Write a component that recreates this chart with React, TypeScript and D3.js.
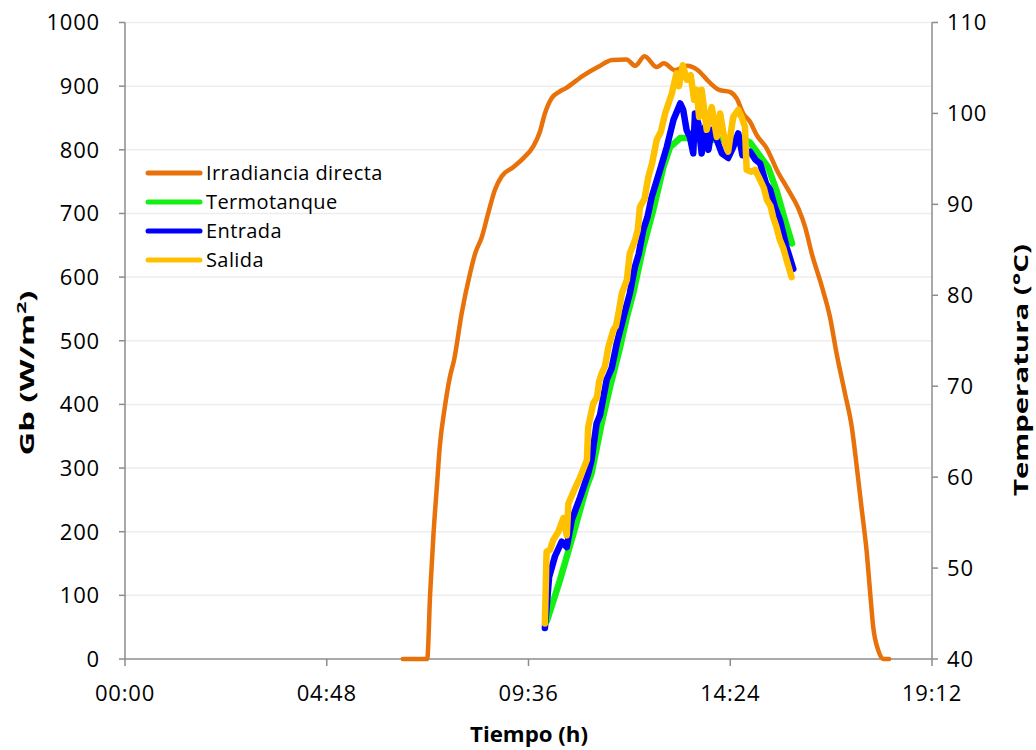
import React from 'react'
import { scaleLinear, line, curveMonotoneX, curveLinear } from 'd3'

// decimal hours
const xTicks = [0, 4.8, 9.6, 14.4, 19.2]
const gbTicks = [0, 100, 200, 300, 400, 500, 600, 700, 800, 900, 1000]
const tempTicks = [40, 50, 60, 70, 80, 90, 100, 110]

const irrTime = [6.61, 7.19, 7.26, 7.34, 7.42, 7.49, 7.61, 7.73, 7.83, 8.01, 8.21, 8.33, 8.49, 8.64, 8.80, 8.96,
  9.24, 9.48, 9.71, 9.87, 9.99, 10.15, 10.33, 10.49, 10.91, 11.25, 11.59, 11.93, 12.14, 12.36, 12.65, 12.82,
  13.08, 13.37, 13.63, 13.89, 14.14, 14.39, 14.55, 14.71, 14.87, 15.03, 15.27, 15.51, 15.78, 16.02, 16.18,
  16.34, 16.58, 16.77, 16.93, 17.13, 17.29, 17.41, 17.53, 17.65, 17.73, 17.80, 17.92, 18.04, 18.18]
const irr = [0, 0, 103, 197, 271, 334, 396, 443, 470, 543, 606, 637, 663, 700, 737, 758,
  773, 787, 805, 828, 857, 881, 891, 897, 917, 930, 941, 942, 932, 947, 930, 936,
  925, 932, 925, 907, 894, 891, 881, 857, 844, 823, 802, 768, 737, 708, 679,
  637, 585, 538, 480, 417, 365, 302, 234, 166, 103, 51, 14, 0, 0]

const termotanque: [number, number][] = [
  [10.04, 44.2], [10.35, 48.7], [10.67, 53.8], [10.98, 58.9], [11.10, 60.4], [11.34, 65.9], [11.54, 69.9],
  [11.78, 74.3], [11.94, 77.6], [12.09, 80.2], [12.33, 85.3], [12.57, 89.4], [12.81, 94.1], [12.97, 96.3],
  [13.21, 97.3], [13.52, 97.3], [13.84, 97.1], [14.32, 97.1], [14.64, 97.3], [14.87, 96.8], [15.11, 95.3],
  [15.30, 94.1], [15.51, 91.4], [15.70, 88.3], [15.87, 85.7],
]

const entrada: [number, number][] = [
  [9.99, 43.4], [10.09, 49.0], [10.23, 51.3], [10.39, 52.9], [10.51, 52.3], [10.63, 55.3], [10.83, 57.8],
  [11.02, 60.4], [11.10, 61.9], [11.22, 65.9], [11.30, 66.8], [11.46, 70.7], [11.58, 72.0], [11.70, 74.7],
  [11.86, 77.6], [12.01, 80.2], [12.13, 83.1], [12.22, 84.5], [12.33, 87.2], [12.43, 88.6], [12.53, 90.8],
  [12.73, 93.8], [12.89, 96.3], [13.05, 99.3], [13.21, 101.1],
  [13.28, 100.4], [13.36, 98.2], [13.44, 97.4], [13.52, 95.6], [13.56, 100.0], [13.64, 98.9], [13.72, 95.6],
  [13.80, 98.5], [13.88, 96.0], [13.96, 98.2], [14.08, 97.1], [14.20, 95.6], [14.35, 95.1], [14.47, 96.3],
  [14.59, 97.8], [14.69, 95.4], [14.87, 95.8], [15.00, 94.9], [15.11, 94.5], [15.25, 92.3], [15.35, 91.6],
  [15.47, 89.6], [15.58, 88.3], [15.74, 85.3], [15.90, 82.9],
]

const salida: [number, number][] = [
  [9.99, 43.9], [10.03, 51.8], [10.11, 52.0], [10.19, 53.1], [10.31, 54.0], [10.43, 55.5], [10.51, 53.6],
  [10.55, 57.1], [10.67, 58.4], [10.83, 60.0], [10.99, 61.9], [11.02, 65.5], [11.14, 68.1], [11.23, 68.8],
  [11.28, 70.5], [11.34, 71.4], [11.42, 72.2], [11.50, 74.3], [11.62, 76.2], [11.68, 76.6], [11.74, 78.0],
  [11.82, 80.2], [11.94, 81.7], [12.01, 84.6], [12.13, 86.0], [12.20, 87.2], [12.25, 89.7], [12.36, 90.6],
  [12.45, 93.0], [12.54, 94.5], [12.65, 97.1], [12.75, 98.0],
  [12.85, 100.0], [13.01, 102.2], [13.12, 104.4], [13.18, 103.0], [13.27, 105.3], [13.37, 103.7],
  [13.46, 104.2], [13.54, 101.5], [13.60, 102.6], [13.66, 99.6], [13.72, 102.6], [13.84, 98.2],
  [13.96, 100.7], [14.08, 97.4], [14.16, 100.0], [14.28, 96.7], [14.35, 95.8], [14.47, 99.6], [14.59, 100.4],
  [14.67, 99.6], [14.75, 98.5], [14.79, 93.8], [14.90, 93.6], [14.99, 93.8], [15.11, 92.7], [15.20, 91.8],
  [15.27, 90.5], [15.36, 89.8], [15.42, 88.6], [15.50, 87.5], [15.58, 86.1], [15.66, 85.2], [15.74, 83.9],
  [15.86, 82.0],
]

const legendItems = [
  { label: 'Irradiancia directa', color: '#E8710A' },
  { label: 'Termotanque', color: '#14F014' },
  { label: 'Entrada', color: '#0000FF' },
  { label: 'Salida', color: '#FFC000' },
]

const font = '"Open Sans", sans-serif'
const axisColor = '#8c8c8c'

const fmtTime = (h: number) => {
  const m = Math.round(h * 60)
  const hh = Math.floor(m / 60)
  const mm = m % 60
  return `${String(hh).padStart(2, '0')}:${String(mm).padStart(2, '0')}`
}

const App = () => {
  const left = 125, right = 932, top = 22.5, bottom = 659

  const x = scaleLinear().domain([0, 19.2]).range([left, right])
  const yGb = scaleLinear().domain([0, 1000]).range([bottom, top])
  const yT = scaleLinear().domain([40, 110]).range([bottom, top])

  const irrLine = line<number>()
    .x((_, i) => x(irrTime[i]))
    .y(d => yGb(d))
    .curve(curveMonotoneX)

  const tLine = line<[number, number]>()
    .x(d => x(d[0]))
    .y(d => yT(d[1]))
    .curve(curveLinear)

  return (
    <svg width={1036} height={750} style={{ position: 'absolute', left: 0, top: 0, background: '#fff' }}
      fontFamily={font}>
      {/* grid */}
      {gbTicks.slice(1).map(t => (
        <line key={t} x1={left} x2={right} y1={yGb(t)} y2={yGb(t)} stroke="#ededed" strokeWidth={1.5} />
      ))}

      {/* axes */}
      <line x1={left} x2={left} y1={top} y2={bottom} stroke={axisColor} strokeWidth={1.5} />
      <line x1={right} x2={right} y1={top} y2={bottom} stroke={axisColor} strokeWidth={1.5} />
      <line x1={left} x2={right} y1={bottom} y2={bottom} stroke={axisColor} strokeWidth={1.5} />

      {gbTicks.map(t => (
        <g key={t}>
          <line x1={left - 6} x2={left} y1={yGb(t)} y2={yGb(t)} stroke={axisColor} strokeWidth={1.5} />
          <text x={100} y={yGb(t)} dy="0.36em" textAnchor="end" fontSize={22} letterSpacing={0.8} fill="#000">{t}</text>
        </g>
      ))}
      {tempTicks.map(t => (
        <g key={t}>
          <line x1={right} x2={right + 6} y1={yT(t)} y2={yT(t)} stroke={axisColor} strokeWidth={1.5} />
          <text x={947} y={yT(t)} dy="0.36em" textAnchor="start" fontSize={22} letterSpacing={0.8} fill="#000">{t}</text>
        </g>
      ))}
      {xTicks.map(t => (
        <g key={t}>
          <line x1={x(t)} x2={x(t)} y1={bottom} y2={bottom + 7} stroke={axisColor} strokeWidth={1.5} />
          <text x={x(t)} y={701} textAnchor="middle" fontSize={22} letterSpacing={0.8} fill="#000">{fmtTime(t)}</text>
        </g>
      ))}

      {/* axis titles */}
      <text transform="translate(34,373) rotate(-90)" textAnchor="middle" fontSize={20} fontWeight="bold" fill="#000"
        textLength={165} lengthAdjust="spacingAndGlyphs">
        Gb (W/m<tspan fontSize={13} dy={-8}>2</tspan><tspan dy={8}>)</tspan>
      </text>
      <text transform="translate(1028,370) rotate(-90)" textAnchor="middle" fontSize={20} fontWeight="bold" fill="#000"
        textLength={252} lengthAdjust="spacingAndGlyphs">
        Temperatura (°C)
      </text>
      <text x={529} y={742} textAnchor="middle" fontSize={21} fontWeight="bold" fill="#000"
        textLength={118} lengthAdjust="spacingAndGlyphs">Tiempo (h)</text>

      {/* series */}
      <path d={irrLine(irr) ?? ''} fill="none" stroke="#E8710A" strokeWidth={4.5} strokeLinejoin="round" strokeLinecap="round" />
      <path d={tLine(termotanque) ?? ''} fill="none" stroke="#14F014" strokeWidth={6.5} strokeLinejoin="round" strokeLinecap="round" />
      <path d={tLine(entrada) ?? ''} fill="none" stroke="#0000FF" strokeWidth={6.5} strokeLinejoin="round" strokeLinecap="round" />
      <path d={tLine(salida) ?? ''} fill="none" stroke="#FFC000" strokeWidth={6.5} strokeLinejoin="round" strokeLinecap="round" />

      {/* legend */}
      {legendItems.map((d, i) => (
        <g key={d.label} transform={`translate(0,${173 + i * 29})`}>
          <line x1={148} x2={200} y1={0} y2={0} stroke={d.color} strokeWidth={5} strokeLinecap="round" />
          <text x={206} y={0} dy="0.36em" fontSize={20} letterSpacing={0.4} fill="#000">{d.label}</text>
        </g>
      ))}
    </svg>
  )
}

export default App
